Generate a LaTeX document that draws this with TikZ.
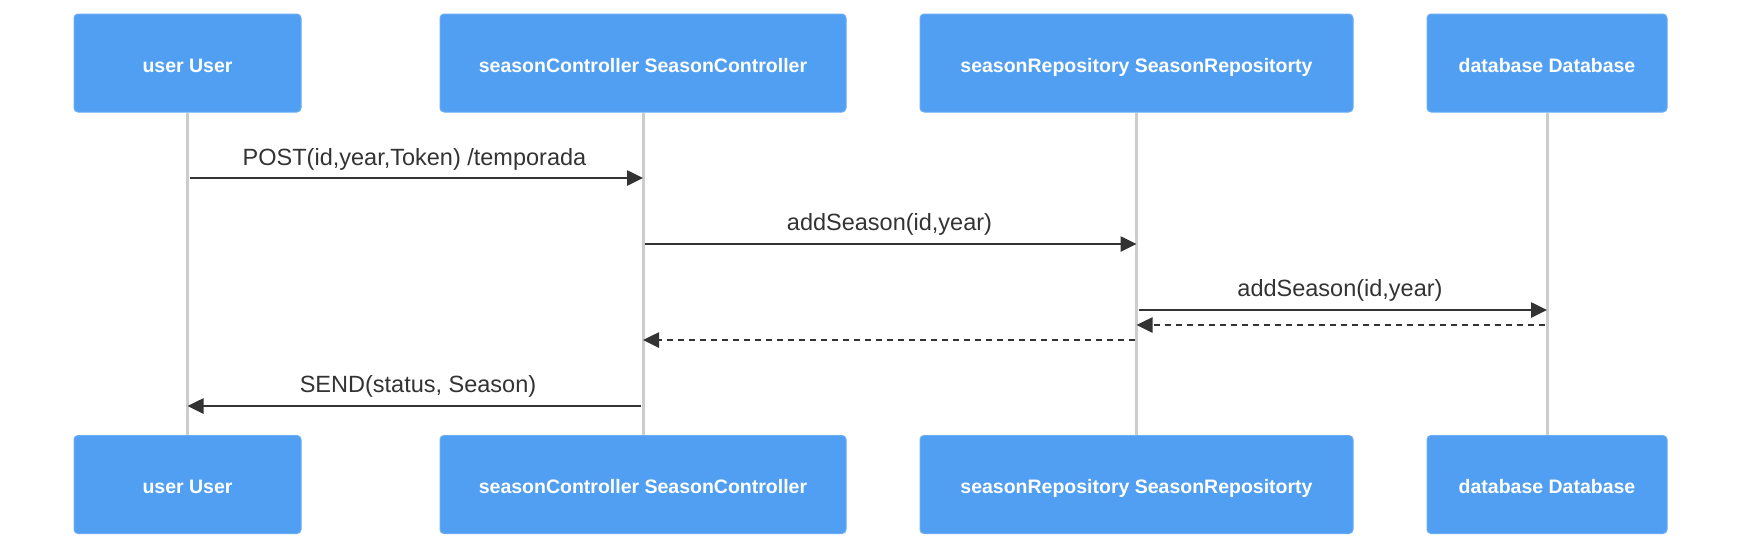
\documentclass[tikz,border=0pt]{standalone}
\usepackage{fontspec}
\setmainfont{Liberation Sans}
\usetikzlibrary{arrows.meta,calc}
\definecolor{boxblue}{HTML}{519FF2}
\definecolor{lifegray}{HTML}{CCCCCC}
\definecolor{msgdark}{HTML}{333333}
\begin{document}
\begin{tikzpicture}[x=1pt,y=-1pt,
  actor/.style={draw=boxblue!85!white,line width=1pt,fill=boxblue,rounded corners=4pt,
    text=white,font=\fontsize{19.5}{22}\selectfont\bfseries,inner sep=0pt,
    text height=19pt,text depth=1pt,minimum height=98pt},
  life/.style={draw=lifegray,line width=3pt},
  msg/.style={draw=msgdark,line width=2.6pt,-{Triangle[length=16pt,width=15pt]}},
  ret/.style={msg,dash pattern=on 6pt off 5pt},
  lbl/.style={text=msgdark,font=\fontsize{23.5}{26}\selectfont,inner sep=0pt,
    text height=17pt,text depth=5pt}]
\useasboundingbox (0,0) rectangle (1741,550);
\fill[white] (0,0) rectangle (1741,550);
% actors top
\node[actor,minimum width=227pt] (uT) at (187.5,63) {user User};
\node[actor,minimum width=406pt] (cT) at (643,63) {seasonController SeasonController};
\node[actor,minimum width=433pt] (rT) at (1136.5,63) {seasonRepository SeasonRepositorty};
\node[actor,minimum width=240pt] (dT) at (1547,63) {database Database};
% actors bottom
\node[actor,minimum width=227pt] (uB) at (187.5,484.5) {user User};
\node[actor,minimum width=406pt] (cB) at (643,484.5) {seasonController SeasonController};
\node[actor,minimum width=433pt] (rB) at (1136.5,484.5) {seasonRepository SeasonRepositorty};
\node[actor,minimum width=240pt] (dB) at (1547,484.5) {database Database};
% lifelines
\draw[life] (uT.south) -- (uB.north);
\draw[life] (cT.south) -- (cB.north);
\draw[life] (rT.south) -- (rB.north);
\draw[life] (dT.south) -- (dB.north);
% message rows
\coordinate (m1) at (0,178);
\coordinate (m2) at (0,244);
\coordinate (m3) at (0,310);
\coordinate (m4) at (0,325);
\coordinate (m5) at (0,340);
\coordinate (m6) at (0,406);
\draw[msg] ([xshift=2pt]uT.south |- m1) -- (cT.south |- m1);
\draw[msg] ([xshift=2pt]cT.south |- m2) -- (rT.south |- m2);
\draw[msg] ([xshift=2pt]rT.south |- m3) -- (dT.south |- m3);
\draw[ret] ([xshift=-2pt]dT.south |- m4) -- (rT.south |- m4);
\draw[ret] ([xshift=-2pt]rT.south |- m5) -- (cT.south |- m5);
\draw[msg] ([xshift=-2pt]cT.south |- m6) -- (uT.south |- m6);
% labels
\node[lbl] (l1) at (414.5,159) {POST(id,year,Token) /temporada};
\node[lbl] (l2) at (889.5,224.5) {addSeason(id,year)};
\node[lbl] (l3) at (1340,290.5) {addSeason(id,year)};
\node[lbl] (l6) at (418,386.5) {SEND(status, Season)};
\end{tikzpicture}
\end{document}
